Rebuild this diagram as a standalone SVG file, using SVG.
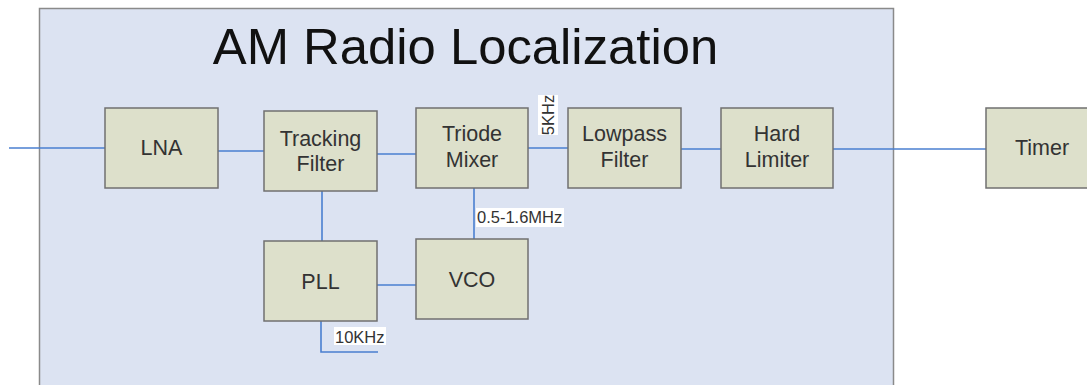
<svg xmlns="http://www.w3.org/2000/svg" width="1087" height="385" viewBox="0 0 1087 385">
<style>
.node rect{fill:#dde0cb;stroke:#707070;stroke-width:1.5}
.node text{font-family:"Liberation Sans",Arial,sans-serif;font-size:21.5px;fill:#333;text-anchor:middle}
.conn path{fill:none;stroke:#4a7fd0;stroke-width:1.6}
.lbl rect{fill:#fff;stroke:none}
.lbl text{font-family:"Liberation Sans",Arial,sans-serif;font-size:16.5px;fill:#333}
</style>
<rect width="1087" height="385" fill="#fff"/>
<g id="container">
<rect x="39.5" y="8.5" width="854" height="390" fill="#dce3f2" stroke="#8a8a8a" stroke-width="1.5"/>
<text x="465.5" y="64" font-family="Liberation Sans,Arial,sans-serif" font-size="50.8" fill="#111" text-anchor="middle">AM Radio Localization</text>
</g>
<g id="connectors" class="conn">
<path d="M9,148 H105"/>
<path d="M218,151 H264"/>
<path d="M377,154 H416"/>
<path d="M528,148 H568"/>
<path d="M681,149 H721"/>
<path d="M833,149 H986"/>
<path d="M322,191 V241"/>
<path d="M474,188 V239"/>
<path d="M377,285 H416"/>
<path d="M321,321 V352 H378"/>
</g>
<g id="labels" class="lbl">
<rect x="538" y="95" width="20" height="40"/>
<text transform="translate(554,115) rotate(-90)" text-anchor="middle">5KHz</text>
<rect x="476" y="208" width="88" height="19"/>
<text x="477" y="223">0.5-1.6MHz</text>
<rect x="334" y="327" width="52" height="18"/>
<text x="335" y="342.5">10KHz</text>
</g>
<g id="lna" class="node"><rect x="105" y="108" width="113" height="80"/><text x="161.5" y="155">LNA</text></g>
<g id="tracking-filter" class="node"><rect x="264" y="111" width="113" height="80"/><text x="320.5" y="146"><tspan x="320.5">Tracking</tspan><tspan x="320.5" dy="25">Filter</tspan></text></g>
<g id="triode-mixer" class="node"><rect x="416" y="108" width="112" height="80"/><text x="472" y="141"><tspan x="472">Triode</tspan><tspan x="472" dy="26">Mixer</tspan></text></g>
<g id="lowpass-filter" class="node"><rect x="568" y="108" width="113" height="80"/><text x="624.5" y="141"><tspan x="624.5">Lowpass</tspan><tspan x="624.5" dy="26">Filter</tspan></text></g>
<g id="hard-limiter" class="node"><rect x="721" y="108" width="112" height="80"/><text x="777" y="141"><tspan x="777">Hard</tspan><tspan x="777" dy="26">Limiter</tspan></text></g>
<g id="timer" class="node"><rect x="986" y="108" width="113" height="80"/><text x="1042" y="155">Timer</text></g>
<g id="pll" class="node"><rect x="264" y="241" width="113" height="80"/><text x="320.5" y="289">PLL</text></g>
<g id="vco" class="node"><rect x="416" y="239" width="112" height="80"/><text x="472" y="287">VCO</text></g>
</svg>
